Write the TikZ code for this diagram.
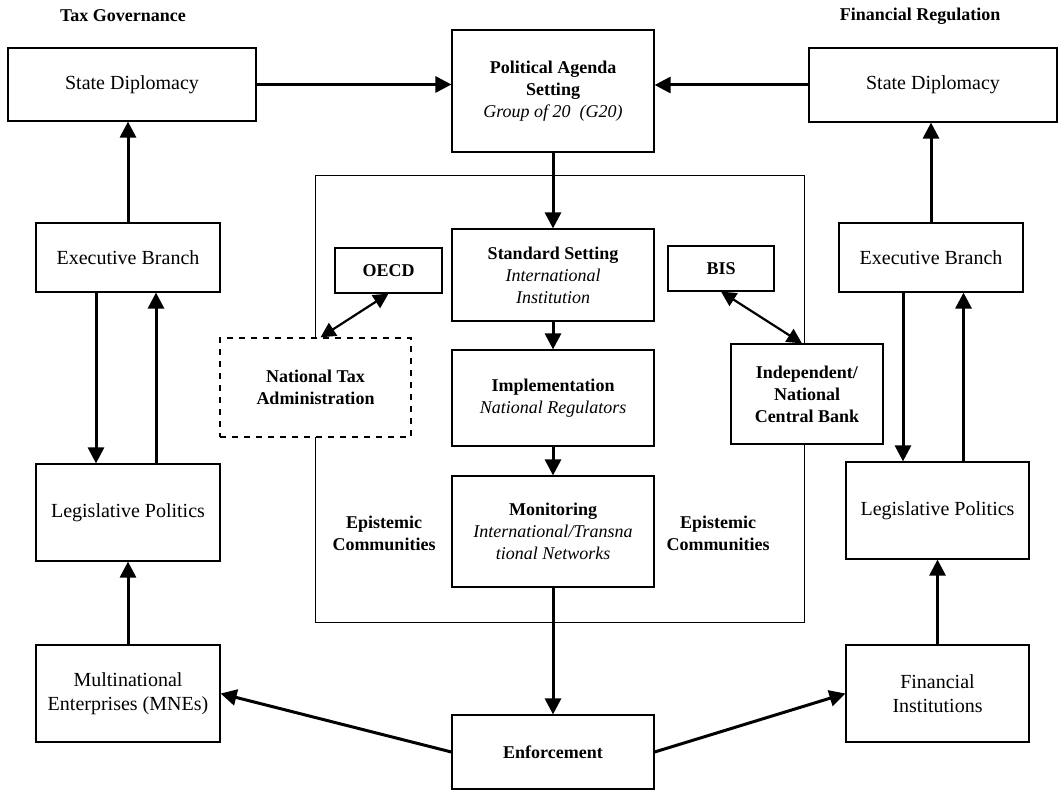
\documentclass[tikz,border=0pt]{standalone}
\usepackage{fontspec}
\setmainfont{Liberation Serif}
\usetikzlibrary{arrows.meta}

\begin{document}
\begin{tikzpicture}[
  x=0.5pt, y=-0.5pt,
  box/.style={draw,line width=0.6pt,fill=white,align=center,inner sep=2pt},
  core/.style={box,font=\fontsize{9}{11}\selectfont},
  lbl/.style={font=\fontsize{9}{11}\selectfont\bfseries,align=center},
  arr/.style={-{Triangle[length=8pt,width=8pt]},line width=1.5pt},
  darr/.style={{Triangle[length=7.5pt,width=7.5pt]}-{Triangle[length=7.5pt,width=7.5pt]},line width=1.1pt}
]
\useasboundingbox (0,0) rectangle (1058,790);
% Frame of the inner field
\node[draw,line width=0.5pt,minimum width=244.5pt,minimum height=223pt] (field) at (559.5,399) {};
% Column headings
\node[lbl] (taxlbl) at (123,16) {Tax Governance};
\node[lbl] (finlbl) at (920,16) {Financial Regulation};
% Top row
\node[box,minimum width=124pt,minimum height=36.5pt] (sdL) at (132,84.5) {State Diplomacy};
\node[core,minimum width=101pt,minimum height=61pt] (pas) at (553,91)
  {\textbf{Political Agenda}\\\textbf{Setting}\\\textit{Group of 20\enspace(G20)}};
\node[box,minimum width=124pt,minimum height=37pt] (sdR) at (933,85) {State Diplomacy};
% Executive branches
\node[box,minimum width=92pt,minimum height=34.5pt] (exL) at (128,257.5) {Executive Branch};
\node[box,minimum width=92pt,minimum height=34.5pt] (exR) at (931,257.5) {Executive Branch};
% Inner field
\node[core,minimum width=53.5pt,minimum height=22.5pt] (oecd) at (388.5,270.5) {\textbf{OECD}};
\node[core,minimum width=53pt,minimum height=22.5pt] (bis) at (721,268.5) {\textbf{BIS}};
\node[core,minimum width=101pt,minimum height=46pt] (std) at (553,275)
  {\textbf{Standard Setting}\\\textit{International}\\\textit{Institution}};
\node[core,dashed,minimum width=95.5pt,minimum height=49.5pt] (nta) at (315.5,387.5)
  {\textbf{National Tax}\\\textbf{Administration}};
\node[core,minimum width=101pt,minimum height=48pt] (impl) at (553,398)
  {\textbf{Implementation}\\\textit{National Regulators}};
\node[core,minimum width=76pt,minimum height=50pt] (cb) at (807,394)
  {\textbf{Independent/}\\\textbf{National}\\\textbf{Central Bank}};
\node[core,minimum width=101pt,minimum height=55.5pt] (mon) at (553,531.5)
  {\textbf{Monitoring}\\\textit{International/Transna}\\\textit{tional Networks}};
\node[lbl] (epiL) at (384,533) {Epistemic\\Communities};
\node[lbl] (epiR) at (718,533) {Epistemic\\Communities};
% Legislative politics
\node[box,minimum width=92pt,minimum height=48.5pt] (legL) at (128,512.5) {Legislative Politics};
\node[box,minimum width=91.5pt,minimum height=48.5pt] (legR) at (937.5,510.5) {Legislative Politics};
% Bottom row
\node[box,minimum width=92pt,minimum height=48.5pt] (mne) at (128,693.5) {Multinational\\Enterprises (MNEs)};
\node[core,minimum width=101pt,minimum height=37pt] (enf) at (553,752) {\textbf{Enforcement}};
\node[box,minimum width=91.5pt,minimum height=48.5pt] (fin) at (937.5,693.5) {Financial\\Institutions};
% Edges
\draw[arr] (sdL.east) -- (sdL.east -| pas.west); \draw[arr] (sdR.west) -- (sdR.west -| pas.east);
\draw[arr] (pas) -- (std); \draw[arr] (std) -- (impl); \draw[arr] (impl) -- (mon); \draw[arr] (mon) -- (enf);
\draw[arr] (enf.west) -- (mne.east); \draw[arr] (enf.east) -- (fin.west);
\draw[arr] (mne) -- (legL); \draw[arr] (fin) -- (legR);
\draw[arr] (exL.north) -- (exL.north |- sdL.south); \draw[arr] (exR.north) -- (exR.north |- sdR.south);
\coordinate (dnL) at ([xshift=-16pt]exL.south); \coordinate (upL) at ([xshift=14pt]legL.north);
\coordinate (dnR) at ([xshift=-14pt]exR.south); \coordinate (upR) at ([xshift=13pt]legR.north);
\draw[arr] (dnL) -- (dnL |- legL.north); \draw[arr] (upL) -- (upL |- exL.south);
\draw[arr] (dnR) -- (dnR |- legR.north); \draw[arr] (upR) -- (upR |- exR.south);
\draw[darr] (oecd.south) -- ([xshift=2.5pt]nta.north);
\draw[darr] (bis.south) -- ([xshift=-2.5pt]cb.north);
\end{tikzpicture}
\end{document}
